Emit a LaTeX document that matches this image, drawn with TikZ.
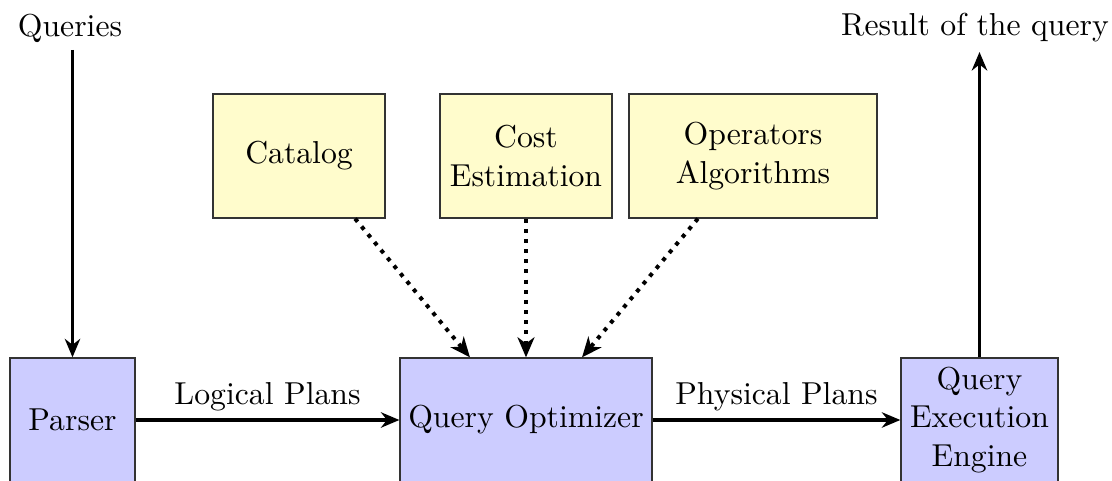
\documentclass[tikz,border=0pt]{standalone}
\usetikzlibrary{arrows.meta,positioning,calc}
\begin{document}
\begin{tikzpicture}[x=0.3247pt,y=-0.3247pt,
  every node/.style={font=\fontsize{10.3}{12.6}\selectfont},
  procbox/.style={draw=black!80,fill=blue!20,align=center,inner sep=0pt,minimum height=40.3pt},
  infobox/.style={draw=black!80,fill=yellow!20,align=center,inner sep=0pt,minimum height=40.3pt},
  flow/.style={-{Stealth[length=6pt,width=5pt]},line width=1.2pt},
  info/.style={-{Stealth[length=6.5pt,width=5.5pt,inset=2pt]},line width=1.3pt,dotted},
  lbl/.style={inner sep=2pt}]
\useasboundingbox (0,0) rectangle (1112,481);
\node[procbox,minimum width=40.6pt] (parser) at (72.5,420) {Parser};
\node[procbox,minimum width=81.8pt] (opt) at (526,420) {Query Optimizer};
\node[procbox,minimum width=51pt] (qee) at (979.5,420) {Query\\Execution\\Engine};
\node[infobox,minimum width=55.8pt] (cat) at (299,156) {Catalog};
\node[infobox,minimum width=55.8pt] (cost) at (526,156) {Cost\\Estimation};
\node[infobox,minimum width=80.5pt] (ops) at (753,156) {Operators\\Algorithms};
\node[lbl] (q) at (70,28) {Queries};
\node[lbl] (res) at (975,28) {Result of the query};
\coordinate (qs) at (72.5,50);
\coordinate (re) at (979.5,52);
\draw[flow] (qs) -- (parser);
\draw[flow] (qee) -- (re);
\draw[flow] (parser) -- node[above=-1pt] {Logical Plans} (opt);
\draw[flow] (opt) -- node[above=-1pt] {Physical Plans} (qee);
\draw[info] ([xshift=18.2pt]cat.south) -- ([xshift=-18.2pt]opt.north);
\draw[info] (cost.south) -- (opt.north);
\draw[info] ([xshift=-17.9pt]ops.south) -- ([xshift=18.2pt]opt.north);
\end{tikzpicture}
\end{document}
